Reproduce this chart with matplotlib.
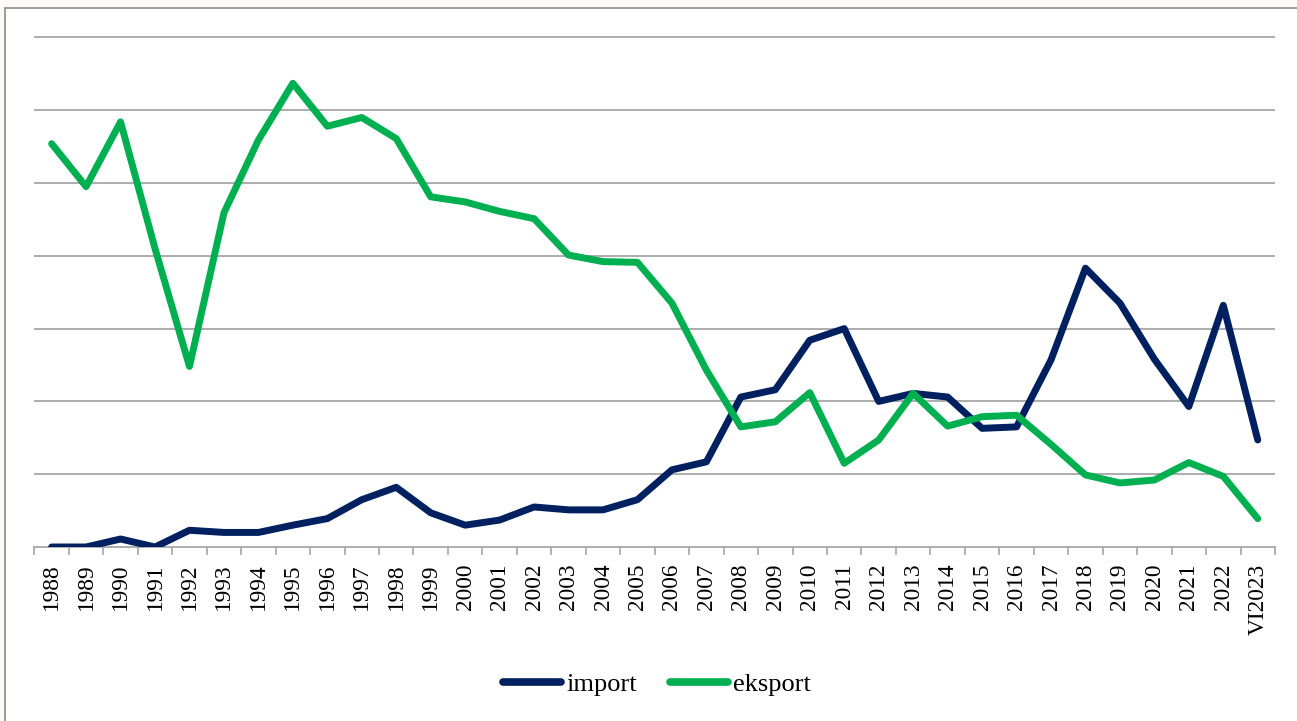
import matplotlib
matplotlib.use("Agg")
import matplotlib.pyplot as plt
from matplotlib.patches import Rectangle
import numpy as np

years = ["1988", "1989", "1990", "1991", "1992", "1993", "1994", "1995", "1996",
         "1997", "1998", "1999", "2000", "2001", "2002", "2003", "2004", "2005",
         "2006", "2007", "2008", "2009", "2010", "2011", "2012", "2013", "2014",
         "2015", "2016", "2017", "2018", "2019", "2020", "2021", "2022", "VI2023"]

import_vals = [0.00, 0.00, 0.11, 0.00, 0.23, 0.20, 0.20, 0.30, 0.39,
               0.65, 0.82, 0.47, 0.30, 0.37, 0.55, 0.51, 0.51, 0.65,
               1.06, 1.17, 2.06, 2.16, 2.84, 3.00, 2.00, 2.11, 2.06,
               1.63, 1.65, 2.57, 3.83, 3.35, 2.58, 1.93, 3.32, 1.47]

eksport_vals = [5.54, 4.95, 5.84, 4.10, 2.48, 4.59, 5.59, 6.37, 5.78,
                5.90, 5.61, 4.81, 4.74, 4.61, 4.51, 4.01, 3.92, 3.91,
                3.35, 2.43, 1.65, 1.72, 2.12, 1.15, 1.47, 2.11, 1.66,
                1.79, 1.81, 1.41, 0.99, 0.88, 0.92, 1.16, 0.97, 0.39]

W, H = 1297, 721
fig = plt.figure(figsize=(W / 100, H / 100), dpi=100)
fig.patch.set_facecolor("#fbfaf6")

# chart frame (white area with grey border on left/top)
frame = Rectangle((4.5 / W, -0.01), 1.02, 1 - 8 / H + 0.01, transform=fig.transFigure,
                  facecolor="white", edgecolor="#8c8c8c", linewidth=1.2, zorder=-10)
fig.patches.append(frame)

top_val = 7.1
px_per_unit = 72.8
base_y = 547
top_px = base_y - top_val * px_per_unit
left_px, right_px = 34.4, 1275
ax = fig.add_axes([left_px / W, 1 - base_y / H, (right_px - left_px) / W,
                   (base_y - top_px) / H])
ax.set_zorder(1)
ax.set_facecolor("none")

x = np.arange(len(years))
ax.plot(x, import_vals, color="#002060", linewidth=5.0, solid_capstyle="round",
        solid_joinstyle="round", label="import", zorder=3)
ax.plot(x, eksport_vals, color="#00B050", linewidth=5.0, solid_capstyle="round",
        solid_joinstyle="round", label="eksport", zorder=3)

ax.set_xlim(-0.5, len(years) - 0.5)
ax.set_ylim(0, top_val)

ax.set_yticks(np.arange(1, 8))
ax.yaxis.grid(True, color="#a6a6a6", linewidth=1.3)
ax.tick_params(axis="y", length=0, labelleft=False)

ax.set_xticks(x)
ax.set_xticklabels(years, rotation=90, fontfamily="Liberation Serif", fontsize=16.8)
ax.tick_params(axis="x", which="major", length=0, pad=12)
ax.set_xticks(np.arange(-0.5, len(years)), minor=True)
ax.tick_params(axis="x", which="minor", length=6, width=1.2, color="#a6a6a6", direction="out")

for s in ["top", "right", "left"]:
    ax.spines[s].set_visible(False)
ax.spines["bottom"].set_color("#a6a6a6")
ax.spines["bottom"].set_linewidth(1.3)
ax.set_axisbelow(True)

leg = fig.legend(loc="center", bbox_to_anchor=(657 / W, 1 - 684 / H), ncol=2,
                 frameon=False, prop={"family": "Liberation Serif", "size": 19},
                 handlelength=2.2, handletextpad=0.2, columnspacing=1.25)
for l in leg.get_lines():
    l.set_linewidth(5.5)

fig.savefig("out.png", dpi=100, facecolor=fig.get_facecolor())
